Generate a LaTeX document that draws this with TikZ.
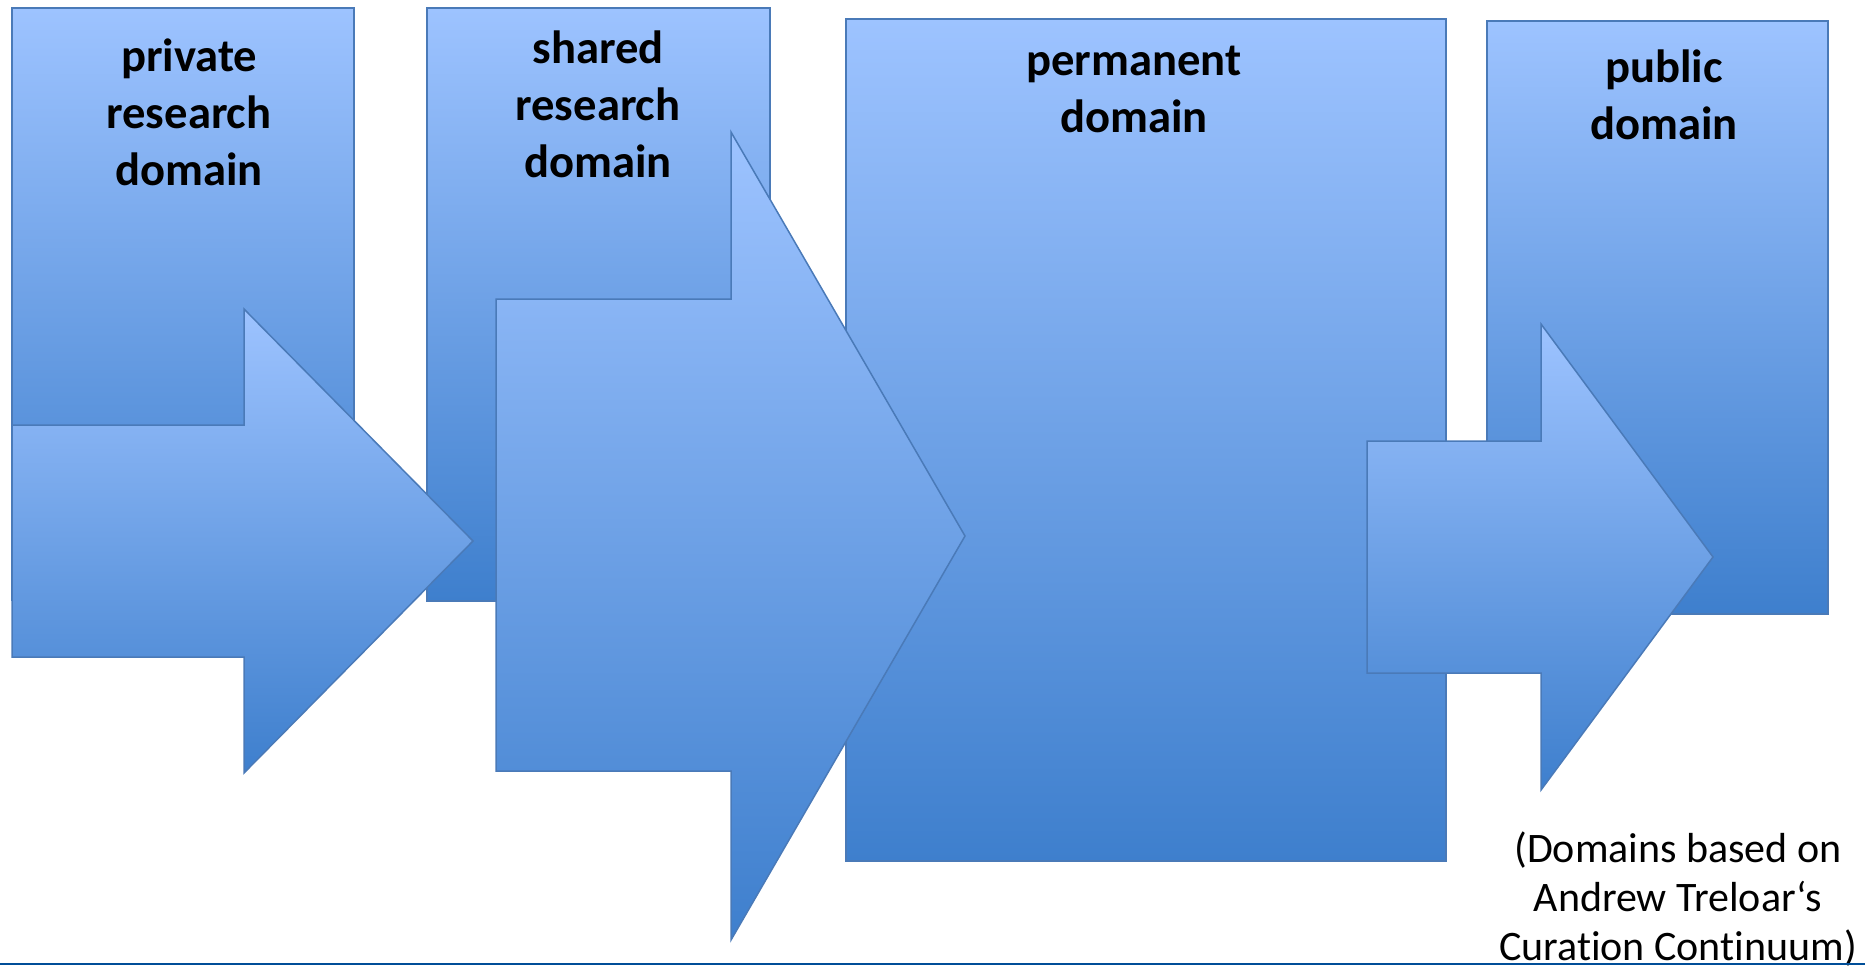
\documentclass[tikz,border=0pt]{standalone}
\usepackage{fontspec}
\setmainfont{Carlito}[Ligatures={TeX,NoCommon}]
\definecolor{domtop}{RGB}{157,195,255}
\definecolor{dombot}{RGB}{62,127,205}
\definecolor{domline}{RGB}{74,122,184}
\definecolor{rulecol}{RGB}{0,78,152}
\tikzset{
  domainbox/.style={draw=domline, line width=1.5pt, top color=domtop, bottom color=dombot},
  domainlabel/.style={font=\bfseries\fontsize{46.6}{57}\selectfont, align=center, inner sep=0pt, anchor=base},
  notelabel/.style={font=\fontsize{42}{49}\selectfont, align=center, inner sep=0pt, anchor=base}
}
\begin{document}
\begin{tikzpicture}[x=1pt,y=-1pt]
                \useasboundingbox (0,0) rectangle (1865,967);

                \draw[domainbox] (12,8) rectangle (354,600);
                \draw[domainbox] (427,8) rectangle (770,601);
                \draw[domainbox] (846,19) rectangle (1446,861);
                \draw[domainbox] (1487,21) rectangle (1828,614);

                \draw[domainbox] (12,425) -- (244,425) -- (244,309) -- (473,541) -- (244,773) -- (244,657) -- (12,657) -- cycle;
                \draw[domainbox] (496,299) -- (731,299) -- (731,132) -- (965,536) -- (731,940) -- (731,771) -- (496,771) -- cycle;
                \draw[domainbox] (1367,441) -- (1541,441) -- (1541,324) -- (1713,557) -- (1541,790) -- (1541,673) -- (1367,673) -- cycle;

                \node[domainlabel] (private) at (189,185) {private\\research\\domain};
                \node[domainlabel] (shared) at (598,177) {shared\\research\\domain};
                \node[domainlabel] (permanent) at (1134,132) {permanent\\domain};
                \node[domainlabel] (public) at (1664,139) {public\\domain};
                \node[notelabel] (note) at (1678,960) {(Domains based on\\Andrew Treloar‘s\\Curation Continuum)};

                \draw[rulecol, line width=2.5pt] (0,964) -- (1865,964);
\end{tikzpicture}
\end{document}
